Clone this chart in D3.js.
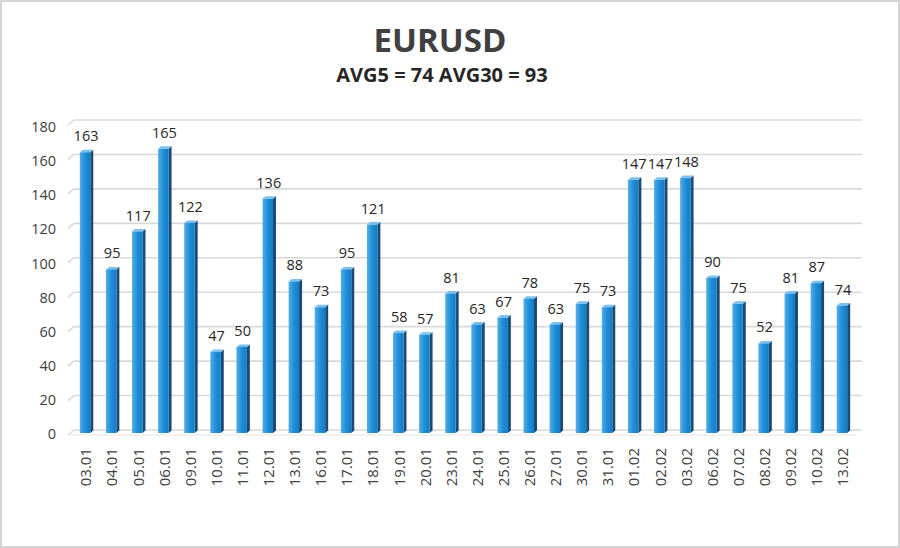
<!DOCTYPE html>
<html><head><meta charset="utf-8">
<script src="https://cdn.jsdelivr.net/npm/d3@7/dist/d3.min.js"></script>
<style>
html,body{margin:0;padding:0;background:#fff;}
svg{display:block;}
</style></head>
<body>
<svg id="chart" width="900" height="548"></svg>
<script>
const title = "EURUSD";
const subtitle = "AVG5 = 74 AVG30 = 93";
const categories = ["03.01","04.01","05.01","06.01","09.01","10.01","11.01","12.01","13.01","16.01","17.01","18.01","19.01","20.01","23.01","24.01","25.01","26.01","27.01","30.01","31.01","01.02","02.02","03.02","06.02","07.02","08.02","09.02","10.02","13.02"];
const values = [163,95,117,165,122,47,50,136,88,73,95,121,58,57,81,63,67,78,63,75,73,147,147,148,90,75,52,81,87,74];
const yTicks = [0,20,40,60,80,100,120,140,160,180];

const svg = d3.select("#chart");
const W = 900, H = 548;
const font = "'Open Sans', 'Noto Sans', sans-serif";

// outer frame
svg.append("rect").attr("x",1).attr("y",1).attr("width",W-2).attr("height",H-2)
  .attr("fill","#fff").attr("stroke","#d4d4d4").attr("stroke-width",2);

// gradients
const defs = svg.append("defs");
const g1 = defs.append("linearGradient").attr("id","front").attr("x1","0").attr("x2","1").attr("y1","0").attr("y2","0");
g1.append("stop").attr("offset","0%").attr("stop-color","#55ade6");
g1.append("stop").attr("offset","50%").attr("stop-color","#1f8fd9");
g1.append("stop").attr("offset","100%").attr("stop-color","#127cc4");

const x = d3.scaleBand().domain(categories).range([72, 855]).paddingInner(0.6).paddingOuter(0.3);
const y = d3.scaleLinear().domain([0,180]).range([433,123]);
const yLab = d3.scaleLinear().domain([0,180]).range([434,127]);

const dx = 3, dy = 2.5;

// gridlines (back wall) with side-wall diagonal
const grid = svg.append("g");
yTicks.forEach(v => {
  grid.append("line").attr("x1",74).attr("x2",862).attr("y1",y(v)-3).attr("y2",y(v)-3)
    .attr("stroke","#d9d9d9").attr("stroke-width",1.6);
  grid.append("line").attr("x1",68).attr("x2",74).attr("y1",y(v)+2).attr("y2",y(v)-3)
    .attr("stroke","#d9d9d9").attr("stroke-width",1.6);
});
// floor front edge
grid.append("line").attr("x1",68).attr("x2",856).attr("y1",y(0)+2).attr("y2",y(0)+2)
  .attr("stroke","#e6e6e6").attr("stroke-width",1.2);

// y axis labels
svg.append("g").selectAll("text").data(yTicks).join("text")
  .attr("x",56).attr("y",d=>yLab(d)).attr("dy","0.35em")
  .attr("text-anchor","end").attr("font-family",font).attr("font-size",14.5)
  .attr("fill","#404040").text(d=>d);

// bars
const bars = svg.append("g").selectAll("g").data(values).join("g");
const bw = x.bandwidth();
bars.append("path").attr("fill","#1b4a76").attr("d",(d,i)=>{
  const x1 = x(categories[i]) + bw;
  return `M${x1},${y(d)} L${x1+dx},${y(d)-dy} L${x1+dx},${y(0)-dy} L${x1},${y(0)} Z`;
});
bars.append("path").attr("fill","#7cc0ec").attr("d",(d,i)=>{
  const x0 = x(categories[i]);
  return `M${x0},${y(d)} L${x0+dx},${y(d)-dy} L${x0+bw+dx},${y(d)-dy} L${x0+bw},${y(d)} Z`;
});
bars.append("rect").attr("fill","url(#front)")
  .attr("x",(d,i)=>x(categories[i])).attr("width",bw)
  .attr("y",d=>y(d)).attr("height",d=>y(0)-y(d));

// value labels
svg.append("g").selectAll("text").data(values).join("text")
  .attr("x",(d,i)=>x(categories[i])+bw/2+1).attr("y",d=>y(d)-11)
  .attr("text-anchor","middle").attr("font-family",font).attr("font-size",14.5)
  .attr("fill","#262626").text(d=>d);

// x labels
svg.append("g").selectAll("text").data(categories).join("text")
  .attr("transform",(d)=>`translate(${x(d)+bw/2+1},448) rotate(-90)`)
  .attr("text-anchor","end").attr("dy","0.35em")
  .attr("font-family",font).attr("font-size",15).attr("fill","#404040").text(d=>d);

// titles
svg.append("text").attr("x",440).attr("y",52).attr("text-anchor","middle")
  .attr("font-family",font).attr("font-weight","bold").attr("font-size",33)
  .attr("fill","#404040").text(title);
svg.append("text").attr("x",442).attr("y",82).attr("text-anchor","middle")
  .attr("font-family",font).attr("font-weight","bold").attr("font-size",20)
  .attr("fill","#262626").text(subtitle);
</script>
</body></html>
